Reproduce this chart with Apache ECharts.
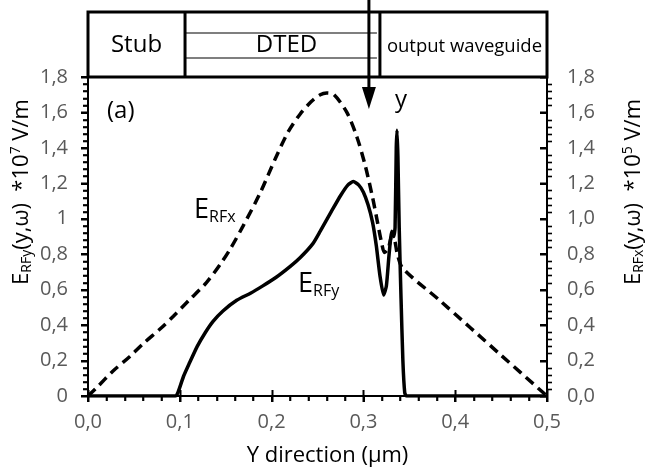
<!DOCTYPE html>
<html>
<head>
<meta charset="utf-8">
<script src="https://cdn.jsdelivr.net/npm/echarts@6/dist/echarts.min.js"></script>
<style>html,body{margin:0;padding:0;background:#fff;}#c{width:653px;height:472px;}</style>
</head>
<body>
<div id="c"></div>
<script>
// E_RFy (left axis, *10^7 V/m) - solid
var erfyX = [0, 0.095, 0.098, 0.104, 0.110, 0.119, 0.128, 0.136, 0.147, 0.162, 0.177, 0.190, 0.205, 0.220, 0.231, 0.245, 0.253, 0.265, 0.275, 0.283, 0.289, 0.295, 0.300, 0.305, 0.310, 0.314, 0.318, 0.322, 0.325, 0.328, 0.331, 0.333, 0.3345, 0.3358, 0.3366, 0.3376, 0.339, 0.341, 0.343, 0.345, 0.347, 0.5];
var erfyY = [0, 0, 0.02, 0.11, 0.18, 0.28, 0.36, 0.42, 0.48, 0.54, 0.58, 0.62, 0.67, 0.73, 0.78, 0.86, 0.93, 1.04, 1.13, 1.19, 1.21, 1.19, 1.15, 1.08, 0.98, 0.85, 0.68, 0.57, 0.62, 0.80, 0.93, 0.90, 0.95, 1.40, 1.50, 1.35, 0.95, 0.55, 0.20, 0.02, 0, 0];
// E_RFx (right axis, *10^5 V/m) - dashed
var erfxX = [0, 0.010, 0.027, 0.045, 0.060, 0.080, 0.093, 0.110, 0.129, 0.145, 0.155, 0.169, 0.187, 0.205, 0.218, 0.231, 0.243, 0.253, 0.260, 0.268, 0.282, 0.293, 0.302, 0.310, 0.315, 0.320, 0.323, 0.327, 0.331, 0.334, 0.337, 0.343, 0.383, 0.450, 0.500];
var erfxY = [0, 0.05, 0.14, 0.22, 0.295, 0.385, 0.45, 0.54, 0.64, 0.75, 0.83, 0.96, 1.14, 1.35, 1.49, 1.59, 1.66, 1.70, 1.71, 1.70, 1.60, 1.46, 1.30, 1.12, 0.99, 0.86, 0.81, 0.83, 0.90, 0.88, 0.80, 0.72, 0.54, 0.23, 0];
// schematic region boundaries along Y (µm)
var regionEdges = [0, 0.1057, 0.306, 0.318, 0.5];
var regionNames = ['Stub', 'DTED', 'output waveguide'];
// tick steps
var xMajorStep = 0.1, xMinorStep = 0.02, yMajorStep = 0.2, yMinorStep = 0.04;

function zipXY(xs, ys){ return xs.map(function(x,i){ return [x, ys[i]]; }); }

var FONT = '"Open Sans", "Liberation Sans", sans-serif';
var chart = echarts.init(document.getElementById('c'), null, {renderer:'canvas'});

var tickLabel = {color:'#595959', fontSize:20, fontFamily:FONT};
var option = {
  animation:false,
  backgroundColor:'#fff',
  grid:{left:88, right:106, top:77, bottom:76, containLabel:false},
  xAxis:{
    type:'value', min:0, max:0.5, interval:xMajorStep, position:'bottom',
    axisLine:{show:true, lineStyle:{color:'#000', width:2}},
    axisTick:{show:true, length:6, lineStyle:{color:'#000', width:2}},
    minorTick:{show:true, splitNumber:5, length:5, lineStyle:{color:'#000', width:1.6}},
    splitLine:{show:false},
    axisLabel:Object.assign({margin:16, formatter:function(v){return v.toFixed(1).replace('.',',');}}, tickLabel)
  },
  yAxis:[{
    type:'value', min:0, max:1.8, interval:yMajorStep, position:'left',
    axisLine:{show:true, lineStyle:{color:'#000', width:2}},
    axisTick:{show:true, length:7, lineStyle:{color:'#000', width:2}},
    minorTick:{show:true, splitNumber:5, length:5, lineStyle:{color:'#000', width:1.6}},
    splitLine:{show:false},
    axisLabel:Object.assign({margin:20, formatter:function(v){return String(+v.toFixed(1)).replace('.',',');}}, tickLabel)
  },{
    type:'value', min:0, max:1.8, interval:yMajorStep, position:'right',
    axisLine:{show:true, lineStyle:{color:'#000', width:2}},
    axisTick:{show:true, inside:true, length:7, lineStyle:{color:'#000', width:2}},
    splitLine:{show:false},
    axisLabel:Object.assign({margin:20, formatter:function(v){return v.toFixed(1).replace('.',',');}}, tickLabel)
  }],
  series:[{
    name:'E_RFx', type:'line', yAxisIndex:1, data:zipXY(erfxX, erfxY), showSymbol:false, smooth:0.3,
    lineStyle:{color:'#000', width:3.5, type:[10,6]}, z:2
  },{
    name:'E_RFy', type:'line', yAxisIndex:0, data:zipXY(erfyX, erfyY), showSymbol:false, smooth:0.2,
    lineStyle:{color:'#000', width:3.5, type:'solid'}, z:3
  }]
};
chart.setOption(option);

function px(v){ return chart.convertToPixel({xAxisIndex:0}, v); }
function py(v){ return chart.convertToPixel({yAxisIndex:0}, v); }
var g = [];
// tick marks, positioned through the axis scales
var x0 = px(0), x1 = px(0.5), y0 = py(0);
var tk = {stroke:'#000', lineWidth:2}, tkm = {stroke:'#000', lineWidth:1.6};
for (var i = 0; i <= 25; i++) {
  var xv = +(i * xMinorStep).toFixed(3), xx = Math.round(px(xv)) + 0.5;
  if (i % 5 === 0) g.push({type:'line', shape:{x1:xx, y1:y0-6, x2:xx, y2:y0+6}, style:tk, z:5});
  else g.push({type:'line', shape:{x1:xx, y1:y0, x2:xx, y2:y0+5}, style:tkm, z:5});
}
for (var j = 0; j <= 45; j++) {
  var yv = +(j * yMinorStep).toFixed(3), yy = Math.round(py(yv)) + 0.5;
  if (j % 5 === 0) {
    g.push({type:'line', shape:{x1:x0-7, y1:yy, x2:x0, y2:yy}, style:tk, z:5});
    g.push({type:'line', shape:{x1:x1-7, y1:yy, x2:x1, y2:yy}, style:tk, z:5});
  } else {
    g.push({type:'line', shape:{x1:x0-5, y1:yy, x2:x0, y2:yy}, style:tkm, z:5});
    g.push({type:'line', shape:{x1:x1, y1:yy, x2:x1+5, y2:yy}, style:tkm, z:5});
  }
}
// schematic above the plot
var boxTop = 12, boxBot = 77;
var e = regionEdges.map(px);
var ls = {stroke:'#000', lineWidth:3};
g.push({type:'rect', shape:{x:e[0], y:boxTop, width:e[4]-e[0], height:boxBot-boxTop}, style:{fill:'none', stroke:'#000', lineWidth:3}, z:10});
g.push({type:'line', shape:{x1:e[1], y1:boxTop, x2:e[1], y2:boxBot}, style:ls, z:10});
g.push({type:'line', shape:{x1:e[3], y1:boxTop, x2:e[3], y2:boxBot}, style:ls, z:10});
g.push({type:'line', shape:{x1:e[1], y1:33, x2:e[3]-3, y2:33}, style:{stroke:'#000', lineWidth:1.2}, z:10});
g.push({type:'line', shape:{x1:e[1], y1:58, x2:e[3]-3, y2:58}, style:{stroke:'#000', lineWidth:1.2}, z:10});
// arrow
g.push({type:'line', shape:{x1:e[2], y1:0, x2:e[2], y2:92}, style:{stroke:'#000', lineWidth:3}, z:11});
g.push({type:'polygon', shape:{points:[[e[2]-7,87],[e[2]+7,87],[e[2],109]]}, style:{fill:'#000'}, z:11});
// region labels
g.push({type:'text', x:(e[0]+e[1])/2, y:45, style:{text:regionNames[0], font:'24px '+FONT, fill:'#000', align:'center', verticalAlign:'middle'}, z:12});
g.push({type:'text', x:(e[1]+e[3])/2+4, y:45, style:{text:regionNames[1], font:'24px '+FONT, fill:'#000', align:'center', verticalAlign:'middle'}, z:12});
g.push({type:'text', x:(e[3]+e[4])/2+1, y:47, style:{text:regionNames[2], font:'18.5px '+FONT, fill:'#000', align:'center', verticalAlign:'middle'}, z:12});
// axis titles
g.push({type:'text', x:(e[0]+e[4])/2+10, y:456, style:{text:'Y direction (µm)', font:'22px '+FONT, fill:'#000', align:'center', verticalAlign:'middle'}, z:12});
var subRich = {sub:{font:'14px '+FONT, fill:'#000', padding:[11,0,0,0]}, sup:{font:'14px '+FONT, fill:'#000', padding:[0,0,11,0]}};
g.push({type:'text', x:22, y:192, rotation:Math.PI/2, style:{text:'E{sub|RFy}(y,ω)  *10{sup|7} V/m', font:'22px '+FONT, fill:'#000', align:'center', verticalAlign:'middle', rich:subRich}, z:12});
g.push({type:'text', x:634, y:192, rotation:Math.PI/2, style:{text:'E{sub|RFx}(y,ω)  *10{sup|5} V/m', font:'22px '+FONT, fill:'#000', align:'center', verticalAlign:'middle', rich:subRich}, z:12});
// annotations
g.push({type:'text', x:e[2]+32, y:100, style:{text:'y', font:'24px '+FONT, fill:'#000', align:'center', verticalAlign:'middle'}, z:12});
g.push({type:'text', x:107, y:111, style:{text:'(a)', font:'24px '+FONT, fill:'#000', align:'left', verticalAlign:'middle'}, z:12});
var labRich = {sub:{font:'16px '+FONT, fill:'#000', padding:[14,0,0,0]}};
g.push({type:'text', x:194, y:210, style:{text:'E{sub|RFx}', font:'27px '+FONT, fill:'#000', align:'left', verticalAlign:'middle', rich:labRich}, z:12});
g.push({type:'text', x:298, y:284, style:{text:'E{sub|RFy}', font:'27px '+FONT, fill:'#000', align:'left', verticalAlign:'middle', rich:labRich}, z:12});
chart.setOption({graphic:g});
</script>
</body>
</html>
